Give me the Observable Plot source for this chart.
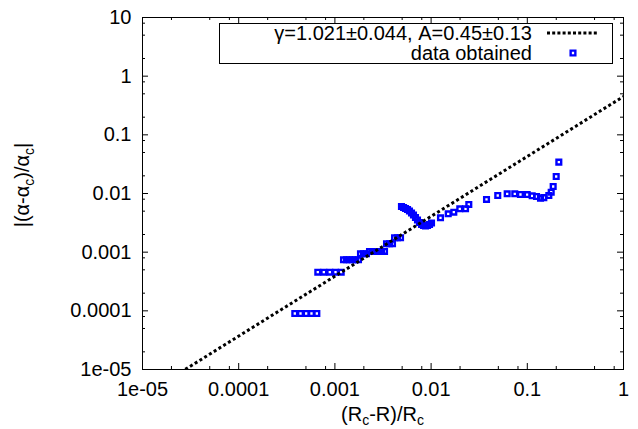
<!DOCTYPE html>
<html>
<head>
<meta charset="utf-8">
<script src="https://cdn.jsdelivr.net/npm/d3@7"></script>
<script src="https://cdn.jsdelivr.net/npm/@observablehq/plot@0.6"></script>
<style>
  html, body { margin: 0; padding: 0; background: #fff; }
  svg { display: block; }
</style>
</head>
<body>
<div id="chart"></div>
<script>
// ---- data ----
const xData = [
  3.83e-4, 4.39e-4, 5.03e-4, 5.71e-4, 6.49e-4,
  6.64e-4, 7.67e-4, 8.85e-4, 1.015e-3, 1.163e-3,
  1.229e-3, 1.32e-3, 1.418e-3, 1.524e-3, 1.637e-3, 1.759e-3,
  1.845e-3, 1.983e-3, 2.13e-3,
  2.29e-3, 2.46e-3, 2.64e-3, 2.84e-3, 3.05e-3, 3.28e-3,
  3.44e-3, 3.70e-3, 3.97e-3,
  4.17e-3, 4.47e-3, 4.81e-3,
  4.92e-3, 5.17e-3, 5.42e-3, 5.69e-3, 5.96e-3, 6.26e-3, 6.56e-3, 6.88e-3,
  7.22e-3, 7.58e-3, 7.95e-3, 8.34e-3, 8.75e-3, 9.18e-3, 9.63e-3, 1.01e-2,
  1.252e-2, 1.506e-2, 1.722e-2, 1.987e-2, 2.28e-2, 2.466e-2, 3.767e-2,
  4.93e-2, 6.18e-2, 7.41e-2, 8.49e-2, 9.97e-2, 0.1124, 0.1247, 0.1372,
  0.1485, 0.1674, 0.1772, 0.1858, 0.1997, 0.2127
];
const yData = [
  9.0e-5, 9.0e-5, 9.0e-5, 9.0e-5, 9.0e-5,
  4.56e-4, 4.56e-4, 4.56e-4, 4.56e-4, 4.56e-4,
  7.41e-4, 7.41e-4, 7.41e-4, 7.41e-4, 7.41e-4, 7.41e-4,
  9.38e-4, 9.38e-4, 9.38e-4,
  1.028e-3, 1.028e-3, 1.028e-3, 1.028e-3, 1.028e-3, 1.028e-3,
  1.39e-3, 1.39e-3, 1.39e-3,
  1.76e-3, 1.76e-3, 1.76e-3,
  6.01e-3, 5.78e-3, 5.55e-3, 5.34e-3, 5.03e-3, 4.65e-3, 4.30e-3, 3.90e-3,
  3.54e-3, 3.20e-3, 2.96e-3, 2.85e-3, 2.79e-3, 2.85e-3, 2.96e-3, 3.14e-3,
  3.85e-3, 4.51e-3, 4.80e-3, 5.49e-3, 5.49e-3, 6.50e-3, 7.91e-3,
  9.25e-3, 9.89e-3, 9.89e-3, 9.62e-3, 9.59e-3, 9.14e-3, 8.89e-3, 8.32e-3,
  8.52e-3, 9.25e-3, 1.053e-2, 1.317e-2, 1.95e-2, 3.42e-2
];
// fit parameters (from the legend)
const fitGamma = 1.021;
const fitA = 0.45;
const fitXRange = [1e-5, 1];

const xTicks = [1e-5, 1e-4, 1e-3, 1e-2, 1e-1, 1];
const xTickLabels = ["1e-05", "0.0001", "0.001", "0.01", "0.1", "1"];
const yTicks = [1e-5, 1e-4, 1e-3, 1e-2, 1e-1, 1, 10];
const yTickLabels = ["1e-05", "0.0001", "0.001", "0.01", "0.1", "1", "10"];
const minorMultipliers = [2, 5, 8];

const legendLabels = ["γ=1.021±0.044, A=0.45±0.13", "data obtained"];

// ---- build ----
const data = xData.map((x, i) => ({x, y: yData[i]}));
const fitLine = fitXRange.map(x => ({x, y: fitA * Math.pow(x, fitGamma)}));
const xMinor = xTicks.slice(0, -1).flatMap(t => minorMultipliers.map(m => t * m));
const yMinor = yTicks.slice(0, -1).flatMap(t => minorMultipliers.map(m => t * m));

const W = 638, H = 429;
const mL = 142, mR = 15, mT = 17, mB = 60;
const pW = W - mL - mR, pH = H - mT - mB;
const majorLen = 6, minorLen = 3;
const blue = "#0000ff";
const dotR = 2.65, dotSW = 2.4;

const chart = Plot.plot({
  width: W, height: H,
  marginLeft: mL, marginRight: mR, marginTop: mT, marginBottom: mB,
  style: {fontFamily: "'Liberation Sans', Arial, sans-serif", fontSize: "20px", color: "black", background: "white"},
  x: {type: "log", domain: [1e-5, 1]},
  y: {type: "log", domain: [1e-5, 10]},
  marks: [
    Plot.axisX({ticks: xTicks, tickSize: 0, tickPadding: 12, tickFormat: d => xTickLabels[xTicks.indexOf(d)], label: null, fill: "black"}),
    Plot.axisY({ticks: yTicks, tickSize: 0, tickPadding: 11, tickFormat: d => yTickLabels[yTicks.indexOf(d)], label: null, fill: "black"}),
    // inward ticks, all four sides
    Plot.tickX(xTicks, {x: d => d, insetTop: pH - majorLen, stroke: "black"}),
    Plot.tickX(xTicks, {x: d => d, insetBottom: pH - majorLen, stroke: "black"}),
    Plot.tickX(xMinor, {x: d => d, insetTop: pH - minorLen, stroke: "black"}),
    Plot.tickX(xMinor, {x: d => d, insetBottom: pH - minorLen, stroke: "black"}),
    Plot.tickY(yTicks, {y: d => d, insetRight: pW - majorLen, stroke: "black"}),
    Plot.tickY(yTicks, {y: d => d, insetLeft: pW - majorLen, stroke: "black"}),
    Plot.tickY(yMinor, {y: d => d, insetRight: pW - minorLen, stroke: "black"}),
    Plot.tickY(yMinor, {y: d => d, insetLeft: pW - minorLen, stroke: "black"}),
    Plot.dot(data, {x: "x", y: "y", symbol: "square", r: dotR, stroke: blue, strokeWidth: dotSW, fill: "none"}),
    Plot.line(fitLine, {x: "x", y: "y", stroke: "black", strokeWidth: 3, strokeDasharray: "3,2.6", strokeLinecap: "butt", clip: true}),
    Plot.frame({stroke: "black"})
  ]
});
document.getElementById("chart").appendChild(chart);

// ---- labels & legend ----
const svg = d3.select(chart);
const font = "'Liberation Sans', Arial, sans-serif";

// x label
const xl = svg.append("text")
  .attr("x", mL + pW / 2).attr("y", 421)
  .attr("text-anchor", "middle").attr("font-family", font).attr("font-size", 20).attr("fill", "black");
xl.append("tspan").text("(R");
xl.append("tspan").attr("font-size", 14).attr("dy", 4).text("c");
xl.append("tspan").attr("dy", -4).text("-R)/R");
xl.append("tspan").attr("font-size", 14).attr("dy", 4).text("c");

// y label
const yl = svg.append("text")
  .attr("transform", `translate(29,${mT + pH / 2 - 8}) rotate(-90)`)
  .attr("text-anchor", "middle").attr("font-family", font).attr("font-size", 20).attr("fill", "black");
yl.append("tspan").text("|(α-α");
yl.append("tspan").attr("font-size", 14).attr("dy", 5).text("c");
yl.append("tspan").attr("dy", -5).text(")/α");
yl.append("tspan").attr("font-size", 14).attr("dy", 5).text("c");
yl.append("tspan").attr("dy", -5).text("|");

// legend
const lg = svg.append("g");
lg.append("rect").attr("x", 219.5).attr("y", 23.5).attr("width", 393).attr("height", 40)
  .attr("fill", "white").attr("stroke", "black").attr("stroke-width", 1);
lg.append("text").attr("x", 532).attr("y", 40).attr("text-anchor", "end")
  .attr("font-family", font).attr("font-size", 20).attr("fill", "black").text(legendLabels[0]);
lg.append("text").attr("x", 532).attr("y", 60).attr("text-anchor", "end")
  .attr("font-family", font).attr("font-size", 20).attr("fill", "black").text(legendLabels[1]);
lg.append("line").attr("x1", 547).attr("x2", 598).attr("y1", 33).attr("y2", 33)
  .attr("stroke", "black").attr("stroke-width", 3).attr("stroke-dasharray", "3,2.2").attr("stroke-linecap", "butt");
lg.append("path").attr("transform", "translate(573,53)")
  .attr("d", d3.symbol(d3.symbolSquare, dotR * dotR * Math.PI)())
  .attr("fill", "none").attr("stroke", blue).attr("stroke-width", dotSW);
</script>
</body>
</html>
